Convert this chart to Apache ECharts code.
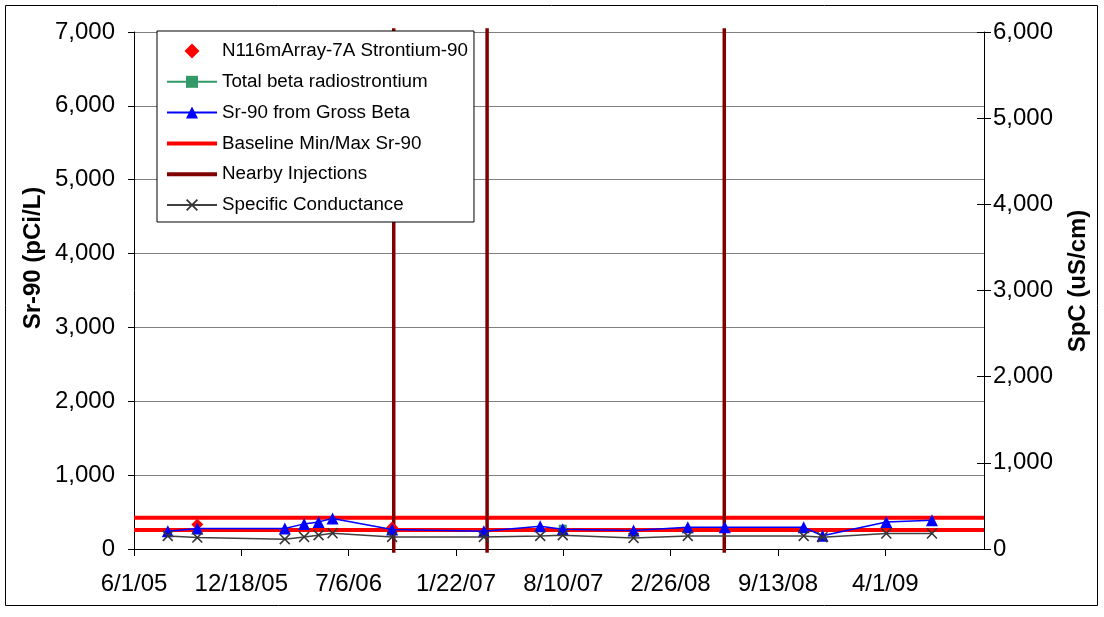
<!DOCTYPE html>
<html>
<head>
<meta charset="utf-8">
<script src="https://cdn.jsdelivr.net/npm/echarts@6/dist/echarts.min.js"></script>
<style>
  html, body { margin: 0; padding: 0; background: #ffffff; }
  #chart { width: 1104px; height: 617px; }
</style>
</head>
<body>
<div id="chart"></div>
<script>
// Date axis tick labels (every 200 days) and the axis end date
const xTickLabels = ['6/1/05', '12/18/05', '7/6/06', '1/22/07', '8/10/07', '2/26/08', '9/13/08', '4/1/09'];
const xAxisEnd = '10/2/09';

// Sampling dates with Sr-90 from gross beta (pCi/L) and specific conductance (uS/cm)
const sampleDates = ['8/3/05', '9/27/05', '3/9/06', '4/14/06', '5/11/06', '6/6/06', '9/25/06', '3/15/07',
  '6/28/07', '8/9/07', '12/19/07', '3/29/08', '6/6/08', '10/31/08', '12/5/08', '4/3/09', '6/27/09'];
const sr90GrossBeta = [241, 278, 278, 340, 367, 413, 264, 241, 309, 268, 250, 295, 295, 295, 180, 367, 390];
const specificConductance = [152, 133, 114, 140, 160, 183, 140, 140, 152, 160, 128, 152, null, 152, 137, 180, 180];

// Direct Sr-90 analyses
const n116Dates = ['9/27/05', '9/25/06'];
const n116Sr90 = [332, 290];

// Total beta radiostrontium
const totalBetaDates = ['8/9/07'];
const totalBetaSr = [275];

// Baseline min / max Sr-90 (pCi/L)
const baselineMinMax = [257, 424];

// Nearby injection dates
const injectionDates = ['9/28/06', '3/21/07', '6/5/08'];

// Axis ranges
const leftAxisMax = 7000;
const rightAxisMax = 6000;
const yInterval = 1000;

const FONT = 'Liberation Sans, Arial, Helvetica, sans-serif';
const DAY = 86400000;

function parseDate(s) {
  const p = s.split('/').map(Number);
  return Date.UTC(2000 + p[2], p[0] - 1, p[1]);
}
const origin = parseDate(xTickLabels[0]);
function dayOf(s) { return Math.round((parseDate(s) - origin) / DAY); }

const xInterval = dayOf(xTickLabels[1]) - dayOf(xTickLabels[0]);
const xMax = dayOf(xAxisEnd);

const pairs = (dates, vals) => dates.map((d, i) => [dayOf(d), vals[i]]);
const spcData = sampleDates.map((d, i) => [dayOf(d), specificConductance[i]]).filter(p => p[1] !== null);

const baselineData = [];
baselineMinMax.forEach((v, i) => {
  if (i) baselineData.push([0, '-']);
  baselineData.push([0, v], [xMax, v]);
});
const injectionData = [];
injectionDates.forEach((d, i) => {
  const x = dayOf(d);
  if (i) injectionData.push([x, '-']);
  injectionData.push([x, -50], [x, leftAxisMax + 50]);
});

const thousands = v => Math.round(v).toLocaleString('en-US');
const crossPath = 'path://M1,0 L5,4 L9,0 L10,1 L6,5 L10,9 L9,10 L5,6 L1,10 L0,9 L4,5 L0,1 Z';
const barIcon = 'path://M0,0 H50 V4 H0 Z';
const diamondIcon = 'path://M6,0 L12,6 L6,12 L0,6 Z';

const chart = echarts.init(document.getElementById('chart'), null, { renderer: 'canvas' });

chart.setOption({
  backgroundColor: '#ffffff',
  animation: false,
  textStyle: { fontFamily: FONT },
  grid: { left: 134, right: 120, top: 32, bottom: 68, containLabel: false },
  legend: {
    orient: 'vertical',
    left: 157,
    top: 31,
    padding: [10, 6, 7, 9],
    itemWidth: 50,
    itemHeight: 15,
    itemGap: 10.8,
    symbolKeepAspect: true,
    backgroundColor: '#ffffff',
    borderColor: '#000000',
    borderWidth: 1,
    selectedMode: false,
    textStyle: { fontFamily: FONT, fontSize: 18.8, color: '#000000', lineHeight: 20 },
    data: [
      { name: 'N116mArray-7A Strontium-90', icon: diamondIcon, itemStyle: { opacity: 1 } },
      { name: 'Total beta radiostrontium' },
      { name: 'Sr-90 from Gross Beta' },
      { name: 'Baseline Min/Max Sr-90', icon: barIcon },
      { name: 'Nearby Injections', icon: barIcon },
      { name: 'Specific Conductance' }
    ]
  },
  xAxis: {
    type: 'value',
    min: 0,
    max: xMax,
    interval: xInterval,
    axisLine: { show: true, lineStyle: { color: '#000000', width: 1 } },
    axisTick: { show: true, inside: false, length: 7, lineStyle: { color: '#000000' } },
    splitLine: { show: false },
    axisLabel: {
      margin: 23,
      fontFamily: FONT,
      fontSize: 24,
      color: '#000000',
      showMaxLabel: false,
      formatter: v => (v % xInterval === 0 && xTickLabels[v / xInterval]) ? xTickLabels[v / xInterval] : ''
    }
  },
  yAxis: [
    {
      type: 'value',
      min: 0,
      max: leftAxisMax,
      interval: yInterval,
      position: 'left',
      axisLine: { show: true, onZero: false, lineStyle: { color: '#000000', width: 1 } },
      axisTick: { show: true, inside: false, length: 6, lineStyle: { color: '#000000' } },
      splitLine: { show: true, lineStyle: { color: '#808080', width: 1 } },
      axisLabel: { margin: 19, fontFamily: FONT, fontSize: 24, color: '#000000', formatter: thousands }
    },
    {
      type: 'value',
      min: 0,
      max: rightAxisMax,
      interval: yInterval,
      position: 'right',
      axisLine: { show: true, onZero: false, lineStyle: { color: '#000000', width: 1 } },
      axisTick: { show: true, inside: false, length: 7, lineStyle: { color: '#000000' } },
      splitLine: { show: false },
      axisLabel: { margin: 9, fontFamily: FONT, fontSize: 24, color: '#000000', formatter: thousands }
    },
    {
      // inner half of the crossing ticks on the conductance axis
      type: 'value',
      min: 0,
      max: rightAxisMax,
      interval: yInterval,
      position: 'right',
      axisLine: { show: false, onZero: false },
      axisTick: { show: true, inside: true, length: 7, lineStyle: { color: '#000000' } },
      splitLine: { show: false },
      axisLabel: { show: false }
    }
  ],
  graphic: [
    {
      type: 'rect', z: 0, silent: true,
      shape: { x: 5.5, y: 5.5, width: 1092, height: 600 },
      style: { fill: 'none', stroke: '#000000', lineWidth: 1 }
    },
    {
      type: 'text', x: 33, y: 258, rotation: Math.PI / 2, silent: true,
      style: { text: 'Sr-90 (pCi/L)', font: 'bold 24px ' + FONT, fill: '#000000', align: 'center', verticalAlign: 'middle' }
    },
    {
      type: 'text', x: 1078, y: 281, rotation: Math.PI / 2, silent: true,
      style: { text: 'SpC (uS/cm)', font: 'bold 24px ' + FONT, fill: '#000000', align: 'center', verticalAlign: 'middle' }
    }
  ],
  series: [
    {
      name: 'Baseline Min/Max Sr-90',
      type: 'line',
      yAxisIndex: 0,
      data: baselineData,
      symbol: 'none',
      connectNulls: false,
      color: '#ff0000',
      lineStyle: { color: '#ff0000', width: 4 },
      z: 2
    },
    {
      name: 'Nearby Injections',
      type: 'line',
      yAxisIndex: 0,
      data: injectionData,
      symbol: 'none',
      connectNulls: false,
      clip: false,
      color: '#800000',
      lineStyle: { color: '#800000', width: 3.5 },
      z: 2
    },
    {
      name: 'N116mArray-7A Strontium-90',
      type: 'scatter',
      yAxisIndex: 0,
      data: pairs(n116Dates, n116Sr90),
      symbol: 'diamond',
      symbolSize: 12,
      color: '#ff0000',
      itemStyle: { color: '#ff0000', opacity: 1 },
      z: 3
    },
    {
      name: 'Total beta radiostrontium',
      type: 'line',
      yAxisIndex: 0,
      data: pairs(totalBetaDates, totalBetaSr),
      symbol: 'rect',
      symbolSize: 8,
      showAllSymbol: true,
      color: '#339966',
      itemStyle: { color: '#339966' },
      lineStyle: { color: '#339966', width: 1.5 },
      z: 4
    },
    {
      name: 'Sr-90 from Gross Beta',
      type: 'line',
      yAxisIndex: 0,
      data: pairs(sampleDates, sr90GrossBeta),
      symbol: 'triangle',
      symbolSize: 12,
      showAllSymbol: true,
      color: '#0000ff',
      itemStyle: { color: '#0000ff' },
      lineStyle: { color: '#0000ff', width: 1.5 },
      z: 5
    },
    {
      name: 'Specific Conductance',
      type: 'line',
      yAxisIndex: 1,
      data: spcData,
      symbol: crossPath,
      symbolSize: 11,
      showAllSymbol: true,
      color: '#333333',
      itemStyle: { color: '#333333' },
      lineStyle: { color: '#404040', width: 1.5 },
      z: 6
    }
  ]
});
</script>
</body>
</html>
